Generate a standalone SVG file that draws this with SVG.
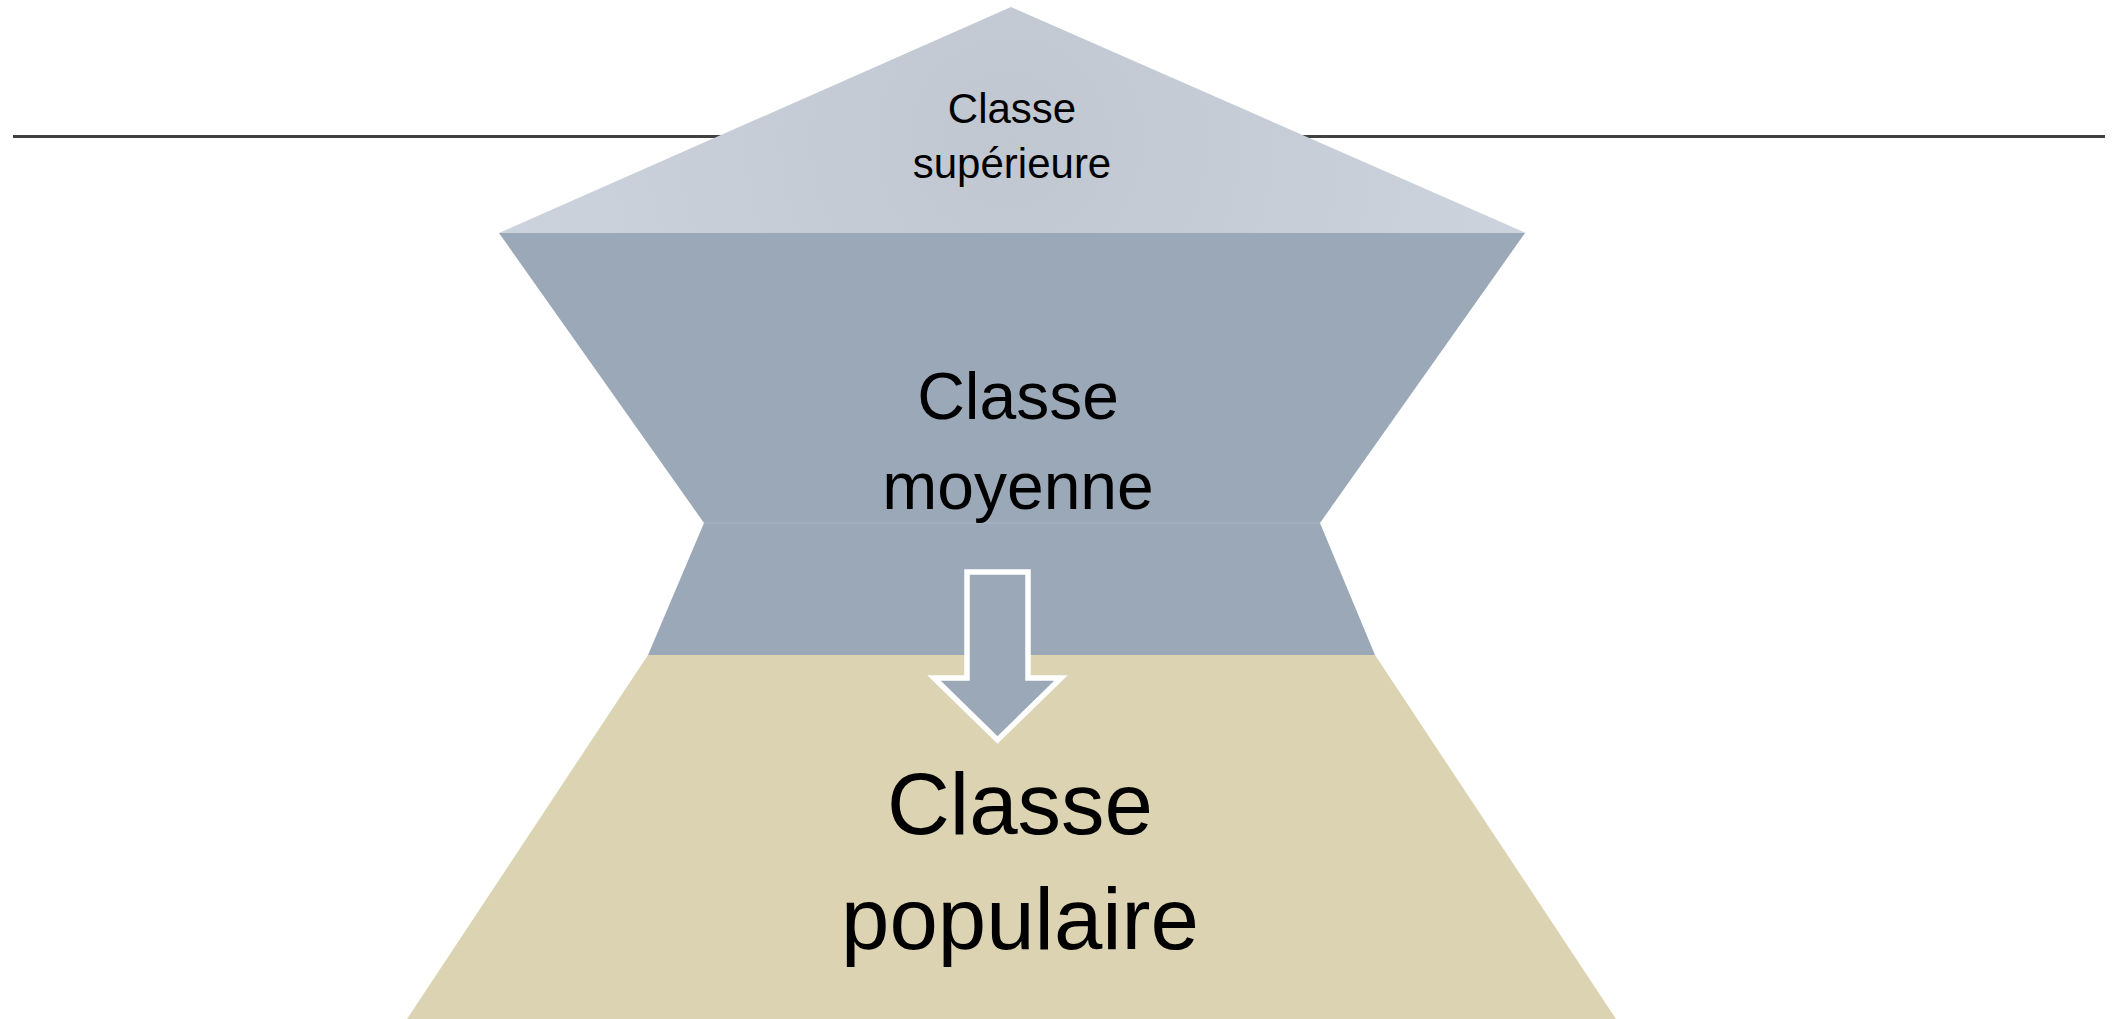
<svg xmlns="http://www.w3.org/2000/svg" width="2114" height="1019" viewBox="0 0 2114 1019">
<style>
text{font-family:"Liberation Sans",Arial,sans-serif;fill:#000;text-anchor:middle}
.mid{fill:#9ba8b7}
.low{fill:#dbd3b2}
</style>
<defs>
<radialGradient id="topg" cx="1010" cy="140" r="520" gradientUnits="userSpaceOnUse">
<stop offset="0" stop-color="#c0c7d1"/>
<stop offset="1" stop-color="#cdd3dc"/>
</radialGradient>
</defs>
<rect width="2114" height="1019" fill="#fff"/>
<line x1="13" y1="136.5" x2="2105" y2="136.5" stroke="#404040" stroke-width="3"/>
<g id="classe-populaire">
<polygon class="low" points="648,655 1375,655 1616,1019 407,1019"/>
<text x="1020" y="834" font-size="87">Classe</text>
<text x="1020" y="949" font-size="87">populaire</text>
</g>
<g id="classe-moyenne">
<polygon class="mid" points="499,233 1525,233 1320,523 704,523"/>
<polygon class="mid" points="704,523 1320,523 1375,655 648,655"/>
<line x1="704" y1="523" x2="1320" y2="523" stroke="#a9b5c3" stroke-width="1"/>
<text x="1018" y="419" font-size="66">Classe</text>
<text x="1018" y="509" font-size="66">moyenne</text>
</g>
<g id="classe-superieure">
<polygon points="1011,7 1526,233 499,233" fill="url(#topg)"/>
<text x="1012" y="123" font-size="42">Classe</text>
<text x="1012" y="178" font-size="42">supérieure</text>
</g>
<g id="connectors">
<polygon points="967,572 1028,572 1028,678 1061,678 997.5,740 934,678 967,678" fill="#9ba8b7" stroke="#fff" stroke-width="5.5"/>
</g>
</svg>
